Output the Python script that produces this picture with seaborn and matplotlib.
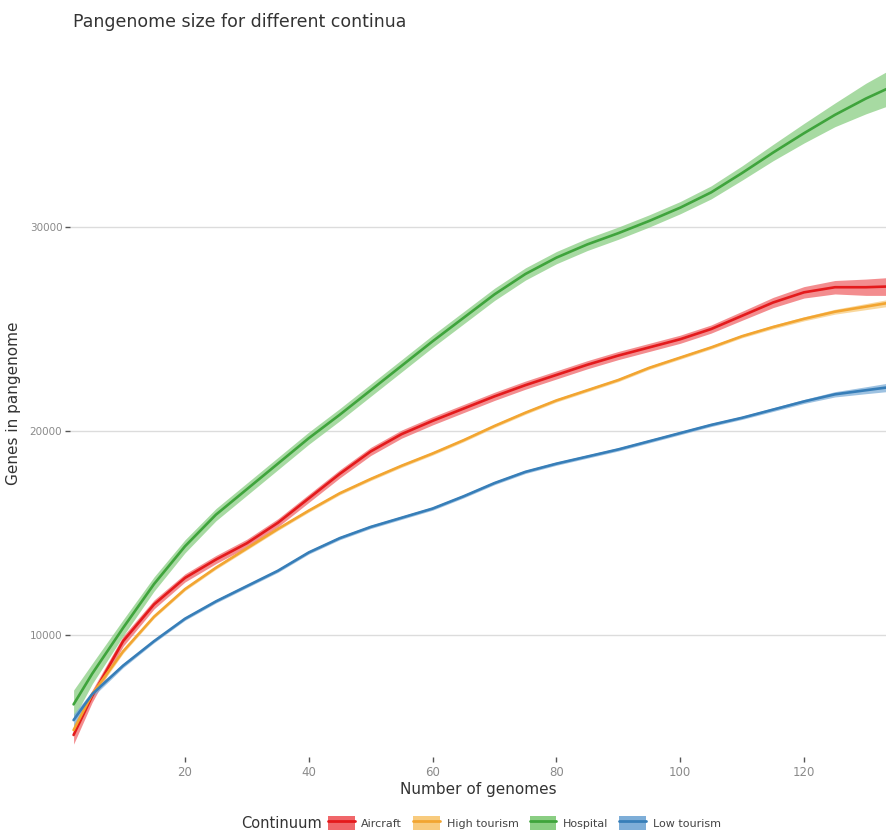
import numpy as np
import pandas as pd
import seaborn as sns
import matplotlib.pyplot as plt
from matplotlib.patches import Patch
from matplotlib.lines import Line2D
from matplotlib.legend_handler import HandlerTuple

# Pangenome accumulation (smoothed fit) per continuum
genomes = [2, 5, 10, 15, 20, 25, 30, 35, 40, 45, 50, 55, 60, 65, 70,
           75, 80, 85, 90, 95, 100, 105, 110, 115, 120, 125, 130, 135]

aircraft = [5100, 7000, 9700, 11500, 12800, 13700, 14500, 15500, 16700, 17900,
            19000, 19850, 20500, 21100, 21700, 22250, 22750, 23250, 23700, 24100,
            24500, 25000, 25650, 26300, 26800, 27050, 27050, 27100]
high_tourism = [5340, 7100, 9200, 10900, 12250, 13300, 14250, 15200, 16100, 16950,
                17650, 18300, 18900, 19550, 20250, 20900, 21500, 22000, 22500, 23100,
                23600, 24100, 24650, 25100, 25500, 25850, 26100, 26350]
hospital = [6600, 8100, 10350, 12500, 14350, 15900, 17150, 18400, 19650, 20800,
            22000, 23200, 24400, 25550, 26700, 27700, 28500, 29150, 29700, 30300,
            30950, 31700, 32650, 33650, 34600, 35500, 36300, 37000]
low_tourism = [5830, 7100, 8500, 9700, 10800, 11650, 12400, 13150, 14050, 14750,
               15300, 15750, 16200, 16800, 17450, 18000, 18400, 18750, 19100, 19500,
               19900, 20300, 20650, 21050, 21450, 21800, 22000, 22200]

# Half-width of the confidence band around each fit
aircraft_se = [450, 300, 250, 220, 200, 200, 200, 200, 200, 200, 200, 200, 200, 200,
               200, 200, 200, 200, 200, 200, 200, 200, 220, 250, 280, 330, 400, 450]
high_tourism_se = [300, 150, 100, 80, 80, 80, 80, 80, 80, 80, 80, 80, 80, 80,
                   80, 80, 80, 80, 80, 80, 80, 80, 80, 90, 100, 120, 150, 180]
hospital_se = [700, 500, 400, 350, 320, 300, 300, 300, 300, 300, 300, 300, 300, 300,
               300, 300, 300, 300, 300, 300, 300, 320, 350, 400, 480, 580, 750, 900]
low_tourism_se = [300, 150, 100, 80, 80, 80, 80, 80, 80, 80, 80, 80, 80, 80,
                  80, 80, 80, 80, 80, 80, 80, 80, 80, 90, 100, 130, 170, 220]

continua = ["Aircraft", "High tourism", "Hospital", "Low tourism"]
fits = {"Aircraft": aircraft, "High tourism": high_tourism,
        "Hospital": hospital, "Low tourism": low_tourism}
bands = {"Aircraft": aircraft_se, "High tourism": high_tourism_se,
         "Hospital": hospital_se, "Low tourism": low_tourism_se}
palette = {"Aircraft": "#E41A1C", "High tourism": "#F2A531",
           "Hospital": "#3FA43C", "Low tourism": "#377EB8"}
band_colors = {"Aircraft": "#F0676A", "High tourism": "#F8CB7E",
               "Hospital": "#8ACE83", "Low tourism": "#7EAED8"}

df = pd.concat([pd.DataFrame({"genomes": genomes, "genes": fits[c], "se": bands[c],
                              "Continuum": c}) for c in continua], ignore_index=True)

sns.set_theme(style="white")
plt.rcParams["font.family"] = ["DejaVu Sans"]

fig = plt.figure(figsize=(8.86, 8.32), dpi=100)
ax = fig.add_axes([70 / 886, 1 - 757 / 832, 1 - 70 / 886, (757 - 50) / 832])

for c in continua:
    sub = df[df["Continuum"] == c]
    ax.fill_between(sub["genomes"], sub["genes"] - sub["se"], sub["genes"] + sub["se"],
                    color=band_colors[c], alpha=0.75, lw=0, zorder=2)

sns.lineplot(data=df, x="genomes", y="genes", hue="Continuum", palette=palette,
             estimator=None, lw=1.9, legend=False, ax=ax, zorder=3)

ax.set_xlim(1.42, 133.25)
ax.set_ylim(4020, 38680)
ax.set_xticks([20, 40, 60, 80, 100, 120])
ax.set_yticks([10000, 20000, 30000])
ax.grid(axis="y", color="#dcdcdc", lw=1.0)
ax.grid(axis="x", visible=False)
for s in ax.spines.values():
    s.set_visible(False)
ax.tick_params(axis="both", which="major", direction="out", length=3.5, width=1.0,
               color="#555555", labelcolor="#8a8a8a", labelsize=7.5, pad=2,
               bottom=True, left=True)
ax.tick_params(axis="x", labelsize=8.5, pad=3)

ax.set_xlabel("Number of genomes", fontsize=11, color="#333333", labelpad=2)
ax.set_ylabel("Genes in pangenome", fontsize=11, color="#333333", labelpad=6)

fig.text(73 / 886, 1 - 22 / 832, "Pangenome size for different continua",
         fontsize=12.5, color="#333333", va="center", ha="left")

handles = [(Patch(facecolor=band_colors[c], edgecolor="none"),
            Line2D([], [], color=palette[c], lw=2.0)) for c in continua]
fig.text(322 / 886, 1 - 823 / 832, "Continuum", fontsize=10.5, color="#333333",
         ha="right", va="center")
fig.legend(handles, continua, handler_map={tuple: HandlerTuple(ndivide=1, pad=0)},
           loc="center left", bbox_to_anchor=(328 / 886, 1 - 823 / 832), ncol=4,
           frameon=False, fontsize=8, labelcolor="#444444", handlelength=2.4,
           handleheight=1.5, handletextpad=0.6, columnspacing=1.0,
           borderaxespad=0, borderpad=0)

fig.savefig("out.png", dpi=100)
